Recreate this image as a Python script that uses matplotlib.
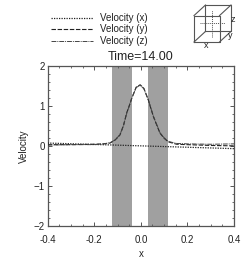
import matplotlib
matplotlib.use("Agg")
import matplotlib.pyplot as plt
from matplotlib.ticker import MultipleLocator

plt.rcParams['font.family'] = ['Liberation Sans', 'DejaVu Sans']

# values
x_pos = [-0.4, -0.3, -0.2, -0.16, -0.132, -0.11, -0.09, -0.075, -0.061, -0.05, -0.039, -0.02, -0.003, 0.013, 0.032,
         0.054, 0.082, 0.1, 0.118, 0.154, 0.2, 0.3, 0.4]
vel_y = [0.03, 0.03, 0.04, 0.05, 0.07, 0.15, 0.27, 0.5, 0.82, 1.0, 1.19, 1.47, 1.53, 1.44, 1.15,
         0.73, 0.32, 0.19, 0.10, 0.04, 0.03, 0.01, 0.0]
vel_z = [0.02, 0.03, 0.03, 0.05, 0.08, 0.15, 0.28, 0.5, 0.81, 1.0, 1.2, 1.46, 1.52, 1.43, 1.15,
         0.74, 0.33, 0.2, 0.11, 0.06, 0.05, 0.04, 0.05]
x_line = [-0.4, 0.4]
vel_x = [0.07, -0.07]
bands = [(-0.125, -0.037), (0.03, 0.118)]
x_ticks = [-0.4, -0.2, 0.0, 0.2, 0.4]
y_ticks = [-2, -1, 0, 1, 2]
cube_front = [(0, 0), (1, 0), (1, 1), (0, 1), (0, 0)]
cube_back = [(0.45, 0.4), (1.45, 0.4), (1.45, 1.4), (0.45, 1.4), (0.45, 0.4)]
cube_mid = [[(0.22, 0.7), (1.22, 0.7)], [(0.72, 0.2), (0.72, 1.2)]]

W, H = 249, 260
fig = plt.figure(figsize=(W / 100, H / 100), dpi=100)
ax = fig.add_axes([47.7 / W, 1 - 225.7 / H, 186.3 / W, 159.7 / H])
grey = '#555555'

for a, b in bands:
    ax.axvspan(a, b, color='#a0a0a0', lw=0, zorder=1)
l1, = ax.plot(x_line, vel_x, color='#222222', ls=(0, (1, 1)), lw=0.9, label='Velocity (x)', zorder=3)
l2, = ax.plot(x_pos, vel_y, color='#222222', ls=(0, (4, 1.5)), lw=0.8, label='Velocity (y)', zorder=3)
l3, = ax.plot(x_pos, vel_z, color='#444444', ls=(0, (5, 1, 1, 1)), lw=0.7, label='Velocity (z)', zorder=3)

ax.set_xlim(-0.4, 0.4)
ax.set_ylim(-2, 2)
ax.set_xticks(x_ticks)
ax.set_xticklabels(['-0.4', '-0.2', '0.0', '0.2', '0.4'])
ax.set_yticks(y_ticks)
ax.xaxis.set_minor_locator(MultipleLocator(0.05))
ax.yaxis.set_minor_locator(MultipleLocator(0.2))
ax.tick_params(which='major', top=True, right=True, direction='in', length=3, width=0.7, color=grey,
               labelsize=7, labelcolor='#222222')
ax.tick_params(axis='x', which='major', pad=7)
ax.tick_params(axis='y', which='major', pad=2)
ax.tick_params(which='minor', top=True, right=True, direction='in', length=1.4, width=0.6, color=grey)
for s in ax.spines.values():
    s.set_linewidth(0.9)
    s.set_color(grey)
ax.set_xlabel('x', fontsize=7, labelpad=2.5, color='#222222')
ax.set_ylabel('Velocity', fontsize=7, labelpad=3.5, color='#222222')
ax.set_title('Time=14.00', fontsize=9, pad=4, color='#222222')

fig.legend(handles=[l1, l2, l3], loc='upper left', bbox_to_anchor=(51 / W, 1 - 13 / H), frameon=False,
           fontsize=7, labelspacing=0.15, handlelength=4.3, handletextpad=0.7, borderpad=0, borderaxespad=0,
           labelcolor='#222222')

# little orientation cube top right
cube = fig.add_axes([194 / W, 1 - 42 / H, 37 / W, 37 / H])
cube.set_xlim(0, 1.45)
cube.set_ylim(0, 1.4)
cube.axis('off')
for path, ls in [(cube_front, '-'), (cube_back, '-')]:
    cube.plot([p[0] for p in path], [p[1] for p in path], color=grey, lw=0.8, ls=ls, clip_on=False)
for a, b in zip(cube_front[:4], cube_back[:4]):
    cube.plot([a[0], b[0]], [a[1], b[1]], color=grey, lw=0.8, clip_on=False)
for seg in cube_mid:
    cube.plot([seg[0][0], seg[1][0]], [seg[0][1], seg[1][1]], color=grey, lw=0.7, ls=(0, (1, 1)), clip_on=False)
fig.text(206.5 / W, 1 - 46 / H, 'x', fontsize=6.5, ha='center', va='center', color='#222222')
fig.text(233 / W, 1 - 19 / H, 'z', fontsize=6.5, ha='center', va='center', color='#222222')
fig.text(230 / W, 1 - 36 / H, 'y', fontsize=6.5, ha='center', va='center', color='#222222')

fig.savefig('out.png', dpi=100)
